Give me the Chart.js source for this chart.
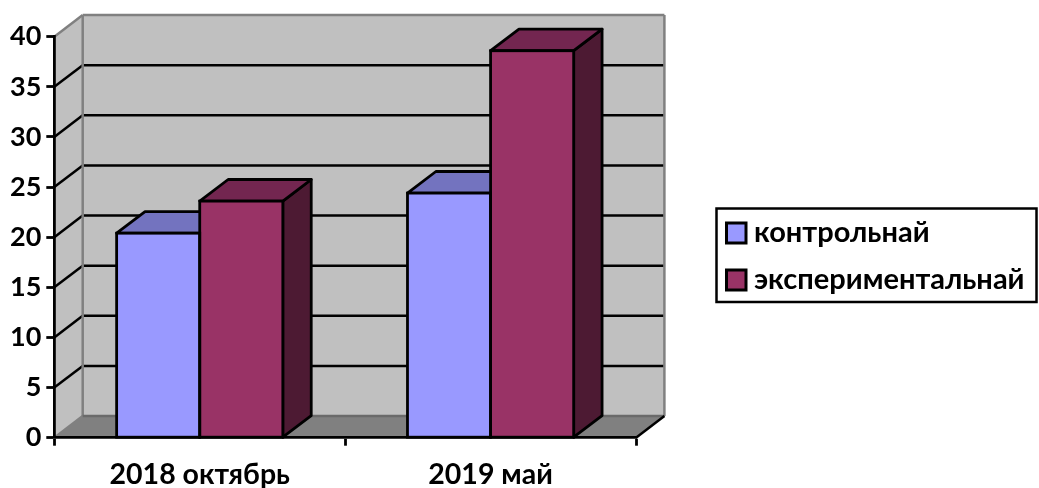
<!DOCTYPE html>
<html>
<head>
<meta charset="utf-8">
<title>chart</title>
<script src="https://cdn.jsdelivr.net/npm/chart.js@4"></script>
<style>
  html, body { margin: 0; padding: 0; background: #fff; }
  canvas { display: block; }
</style>
</head>
<body>
<canvas id="myChart" width="1039" height="488"></canvas>
<script>
const categories = ['2018 октябрь', '2019 май'];
const controlValues = [20.4, 24.4];
const experimentValues = [23.6, 38.6];
const yTicks = [0, 5, 10, 15, 20, 25, 30, 35, 40];
const seriesNames = ['контрольнай', 'экспериментальнай'];

const frontColors = ['#9999ff', '#993366'];
const topColors = ['#7373bf', '#732650'];
const sideColors = ['#4d4d80', '#4d1a33'];

const FONT = 'Lato, "Open Sans", sans-serif';
// how far the back wall sits from the front plane
const DEPTH_X = 28.4;
const DEPTH_Y = 21.6;

function poly(ctx, pts, fill, stroke, lw) {
    ctx.beginPath();
    pts.forEach((p, i) => i ? ctx.lineTo(p[0], p[1]) : ctx.moveTo(p[0], p[1]));
    ctx.closePath();
    if (fill) { ctx.fillStyle = fill; ctx.fill(); }
    if (stroke) { ctx.strokeStyle = stroke; ctx.lineWidth = lw; ctx.stroke(); }
}

function segment(ctx, x1, y1, x2, y2, color, lw) {
    ctx.beginPath();
    ctx.moveTo(x1, y1);
    ctx.lineTo(x2, y2);
    ctx.strokeStyle = color;
    ctx.lineWidth = lw;
    ctx.stroke();
}

const walls = {
    id: 'walls',
    beforeDraw(chart) {
        const { ctx, chartArea: a, scales: { y } } = chart;
        const d = DEPTH_X, h = DEPTH_Y;
        ctx.save();
        ctx.lineJoin = 'round';
        poly(ctx, [[a.left, a.bottom], [a.right, a.bottom], [a.right + d, a.bottom - h], [a.left + d, a.bottom - h]], '#808080');
        poly(ctx, [[a.left, a.bottom], [a.left, a.top], [a.left + d, a.top - h], [a.left + d, a.bottom - h]], '#c0c0c0');
        poly(ctx, [[a.left + d, a.top - h], [a.right + d, a.top - h], [a.right + d, a.bottom - h], [a.left + d, a.bottom - h]], '#c0c0c0');

        // gridlines run along the side wall and across the back wall
        yTicks.slice(1, -1).forEach(v => {
            const py = y.getPixelForValue(v);
            segment(ctx, a.left, py, a.left + d, py - h, '#000', 2.5);
            segment(ctx, a.left + d, py - h, a.right + d, py - h, '#000', 2.5);
        });

        segment(ctx, a.left, a.top, a.left + d, a.top - h, '#808080', 2.5);
        segment(ctx, a.left + d, a.top - h, a.right + d, a.top - h, '#808080', 2.5);
        segment(ctx, a.left + d, a.top - h, a.left + d, a.bottom - h, '#808080', 2.5);
        segment(ctx, a.right + d, a.top - h, a.right + d, a.bottom - h, '#808080', 2.5);
        segment(ctx, a.left, a.bottom, a.left + d, a.bottom - h, '#808080', 2.5);
        segment(ctx, a.left + d, a.bottom - h, a.right + d, a.bottom - h, '#6a6a6a', 2.5);
        segment(ctx, a.right, a.bottom, a.right + d, a.bottom - h, '#000', 2.5);
        ctx.restore();
    },
    beforeDatasetsDraw(chart) {
        const { ctx } = chart;
        const d = DEPTH_X, h = DEPTH_Y;
        ctx.save();
        ctx.lineJoin = 'round';
        chart.data.datasets.forEach((ds, i) => {
            chart.getDatasetMeta(i).data.forEach(bar => {
                const l = bar.x - bar.width / 2, r = bar.x + bar.width / 2;
                poly(ctx, [[r, bar.y], [r + d, bar.y - h], [r + d, bar.base - h], [r, bar.base]], sideColors[i], '#000', 2.8);
                poly(ctx, [[l, bar.y], [l + d, bar.y - h], [r + d, bar.y - h], [r, bar.y]], topColors[i], '#000', 2.8);
            });
        });
        ctx.restore();
    },
    afterDatasetsDraw(chart) {
        const { ctx } = chart;
        ctx.save();
        ctx.strokeStyle = '#000';
        ctx.lineWidth = 2.8;
        chart.data.datasets.forEach((ds, i) => {
            chart.getDatasetMeta(i).data.forEach(bar => {
                ctx.strokeRect(bar.x - bar.width / 2, bar.y, bar.width, bar.base - bar.y);
            });
        });
        ctx.restore();
    }
};

const boxedLegend = {
    id: 'boxedLegend',
    afterDraw(chart) {
        const { ctx } = chart;
        ctx.save();
        ctx.fillStyle = '#fff';
        ctx.fillRect(716.5, 208.5, 320, 93.5);
        ctx.strokeStyle = '#000';
        ctx.lineWidth = 2.5;
        ctx.strokeRect(716.5, 208.5, 320, 93.5);
        ctx.font = 'bold 29px ' + FONT;
        ctx.textBaseline = 'middle';
        chart.data.datasets.forEach((ds, i) => {
            const cy = 233 + i * 47;
            ctx.fillStyle = ds.backgroundColor;
            ctx.fillRect(726.5, cy - 10, 19.5, 20);
            ctx.lineWidth = 3;
            ctx.strokeRect(726.5, cy - 10, 19.5, 20);
            ctx.fillStyle = '#000';
            ctx.fillText(ds.label, 754, cy);
        });
        ctx.restore();
    }
};

new Chart(document.getElementById('myChart').getContext('2d'), {
    type: 'bar',
    data: {
        labels: categories,
        datasets: [
            { label: seriesNames[0], data: controlValues, backgroundColor: frontColors[0], borderWidth: 0 },
            { label: seriesNames[1], data: experimentValues, backgroundColor: frontColors[1], borderWidth: 0 }
        ]
    },
    plugins: [walls, boxedLegend],
    options: {
        responsive: false,
        animation: false,
        events: [],
        layout: { padding: { top: 36.7, right: 403, bottom: 0, left: 0 } },
        datasets: { bar: { categoryPercentage: 0.5714, barPercentage: 1 } },
        plugins: { legend: { display: false }, tooltip: { enabled: false } },
        scales: {
            x: {
                afterFit(scale) { scale.height = 50.3; },
                grid: { drawOnChartArea: false, tickLength: 8, tickColor: '#000', tickWidth: 2.8 },
                border: { color: '#000', width: 2.8 },
                ticks: { color: '#000', padding: 12, maxRotation: 0, font: { family: FONT, size: 28.5, weight: 'bold' } }
            },
            y: {
                min: 0,
                max: 40,
                afterFit(scale) { scale.width = 54.3; },
                afterBuildTicks(scale) { scale.ticks = yTicks.map(value => ({ value })); },
                grid: { drawOnChartArea: false, tickLength: 8, tickColor: '#000', tickWidth: 2.8 },
                border: { color: '#000', width: 2.8 },
                ticks: { color: '#000', padding: 5, font: { family: FONT, size: 27, weight: 'bold' } }
            }
        }
    }
});
</script>
</body>
</html>
